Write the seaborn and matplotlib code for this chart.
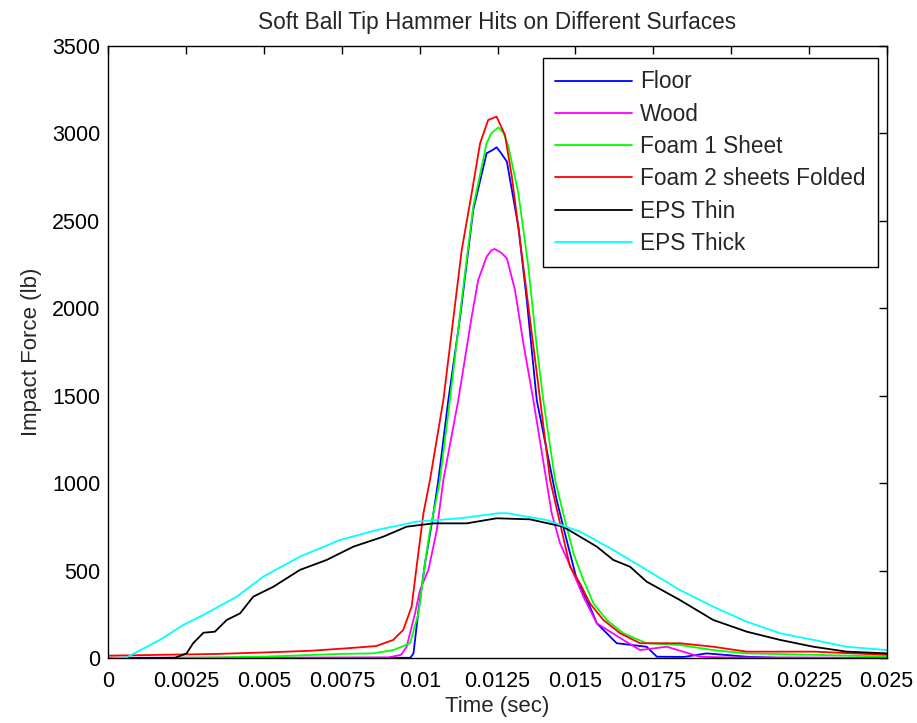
import numpy as np
import pandas as pd
import matplotlib
matplotlib.use("Agg")
import matplotlib.pyplot as plt
import seaborn as sns
from matplotlib.lines import Line2D

series_names = ["Floor", "Wood", "Foam 1 Sheet", "Foam 2 sheets Folded", "EPS Thin", "EPS Thick"]
series_colors = ["#0000FF", "#FF00FF", "#00FF00", "#FF0000", "#000000", "#00FFFF"]

floor_t = [0, 0.0097, 0.0098, 0.00995, 0.01017, 0.01028, 0.01044, 0.0106, 0.01092, 0.0113, 0.01172, 0.01215,
           0.01235, 0.01247, 0.0126, 0.0128, 0.01317, 0.01344, 0.01376, 0.0144, 0.01472, 0.01505, 0.01547,
           0.01569, 0.01633, 0.01729, 0.01762, 0.0185, 0.01922, 0.0205, 0.0215, 0.025]
floor_v = [0, 3, 28, 257, 543, 657, 829, 1019, 1476, 1952, 2562, 2886,
           2905, 2920, 2890, 2838, 2466, 2047, 1476, 905, 676, 447, 295,
           200, 86, 66, 9, 8, 28, 9, 3, 2]

wood_t = [0, 0.009, 0.0094, 0.00958, 0.00985, 0.01001, 0.01028, 0.01055, 0.01076, 0.01124, 0.01167, 0.01188,
          0.01215, 0.0123, 0.0124, 0.0126, 0.0128, 0.01306, 0.01333, 0.01365, 0.01424, 0.01451, 0.01494,
          0.01526, 0.01569, 0.01654, 0.01708, 0.01794, 0.019, 0.0198, 0.025]
wood_v = [3, 5, 20, 66, 257, 390, 505, 733, 1019, 1476, 1952, 2162,
          2295, 2330, 2339, 2320, 2286, 2105, 1800, 1476, 829, 657, 486,
          352, 200, 105, 47, 66, 9, 5, 3]

foam1_t = [0, 0.0035, 0.0051, 0.00744, 0.0085, 0.00915, 0.00969, 0.00996, 0.01017, 0.01033, 0.01055, 0.01065,
           0.01097, 0.01135, 0.01172, 0.01215, 0.0123, 0.01253, 0.0127, 0.01285, 0.01317, 0.01349, 0.01376,
           0.01397, 0.01435, 0.01461, 0.01494, 0.01526, 0.01558, 0.01601, 0.01654, 0.01729, 0.01836, 0.01943,
           0.0205, 0.02265, 0.025]
foam1_v = [0, 5, 10, 25, 28, 47, 86, 257, 543, 733, 923, 1019,
           1476, 2047, 2581, 2943, 3000, 3034, 3000, 2924, 2657, 2238, 1781,
           1476, 1019, 829, 600, 447, 314, 219, 143, 86, 76, 47,
           28, 20, 10]

foam2_t = [0, 0.0035, 0.0051, 0.0065, 0.00765, 0.0086, 0.00915, 0.00947, 0.00974, 0.0099, 0.01012, 0.01033,
           0.01076, 0.01135, 0.01167, 0.01194, 0.0122, 0.01247, 0.01274, 0.01296, 0.01333, 0.0136, 0.01387,
           0.01419, 0.01451, 0.01483, 0.01515, 0.01547, 0.0159, 0.01644, 0.01708, 0.01836, 0.01943, 0.02051,
           0.02265, 0.025]
foam2_v = [15, 25, 34, 43, 57, 70, 105, 162, 295, 523, 829, 1019,
           1476, 2333, 2657, 2943, 3076, 3095, 2990, 2752, 2238, 1857, 1476,
           1019, 771, 523, 428, 314, 219, 143, 86, 86, 66, 38,
           38, 20]

eps_thin_t = [0, 0.00214, 0.00251, 0.00272, 0.00305, 0.00342, 0.0038, 0.00423, 0.00465, 0.0053, 0.00615,
              0.00701, 0.00787, 0.00883, 0.00958, 0.01044, 0.01151, 0.01247, 0.01354, 0.01461, 0.01515,
              0.01569, 0.01622, 0.01676, 0.01729, 0.01836, 0.01943, 0.02051, 0.02158, 0.02265, 0.02372, 0.025]
eps_thin_v = [0, 3, 28, 86, 146, 152, 219, 257, 352, 409, 505,
              562, 638, 695, 752, 771, 771, 800, 794, 752, 695,
              638, 562, 523, 438, 333, 219, 152, 105, 66, 38, 28]

eps_thick_t = [0, 0.00058, 0.00165, 0.0024, 0.00305, 0.00412, 0.00497, 0.00615, 0.00744, 0.00862, 0.0099,
               0.0113, 0.01253, 0.0128, 0.01408, 0.01515, 0.01622, 0.01729, 0.01836, 0.01943, 0.02051,
               0.02158, 0.02265, 0.02372, 0.025]
eps_thick_v = [0, 5, 105, 190, 248, 352, 466, 581, 676, 733, 781,
               800, 829, 829, 790, 724, 619, 505, 390, 295, 209,
               143, 105, 66, 47]

x_ticks = [0, 0.0025, 0.005, 0.0075, 0.01, 0.0125, 0.015, 0.0175, 0.02, 0.0225, 0.025]
x_tick_labels = ["0", "0.0025", "0.005", "0.0075", "0.01", "0.0125", "0.015", "0.0175", "0.02", "0.0225", "0.025"]
y_ticks = [0, 500, 1000, 1500, 2000, 2500, 3000, 3500]

all_t = [floor_t, wood_t, foam1_t, foam2_t, eps_thin_t, eps_thick_t]
all_v = [floor_v, wood_v, foam1_v, foam2_v, eps_thin_v, eps_thick_v]

frames = []
for name, t, v in zip(series_names, all_t, all_v):
    frames.append(pd.DataFrame({"Time": t, "Force": v, "Surface": name}))
df = pd.concat(frames, ignore_index=True)

sns.set_style("white")
plt.rcParams["font.family"] = ["Liberation Sans", "DejaVu Sans"]

fig = plt.figure(figsize=(9.17, 7.23), dpi=100)
ax = fig.add_axes([0.1183, 0.0895, 0.8485, 0.8472])

sns.lineplot(data=df, x="Time", y="Force", hue="Surface", hue_order=series_names,
             palette=dict(zip(series_names, series_colors)), estimator=None, sort=True,
             linewidth=1.3, ax=ax, legend=False)

ax.set_xlim(0, 0.025)
ax.set_ylim(0, 3500)
ax.set_xticks(x_ticks)
ax.set_xticklabels(x_tick_labels)
ax.set_yticks(y_ticks)
ax.tick_params(direction="in", length=5.5, width=1, top=True, right=True, labelsize=15.5, colors="black")
ax.tick_params(axis="x", pad=9)
ax.tick_params(axis="y", pad=6)
for s in ax.spines.values():
    s.set_visible(True)
    s.set_color("black")
    s.set_linewidth(1.0)
ax.set_xlabel("Time (sec)", fontsize=16, labelpad=3)
ax.set_ylabel("Impact Force (lb)", fontsize=16, labelpad=7)
ax.set_title("Soft Ball Tip Hammer Hits on Different Surfaces", fontsize=16.3, pad=12)

handles = [Line2D([0], [0], color=c, lw=1.3) for c in series_colors]
leg = ax.legend(handles, series_names, loc="upper right", bbox_to_anchor=(0.9894, 0.980),
                fontsize=16.3, frameon=True, fancybox=False, edgecolor="black", framealpha=1,
                handlelength=3.4, handletextpad=0.36, labelspacing=0.41, borderpad=0.55, borderaxespad=0)
leg.get_frame().set_linewidth(1.0)

fig.savefig("out.png", dpi=100)
